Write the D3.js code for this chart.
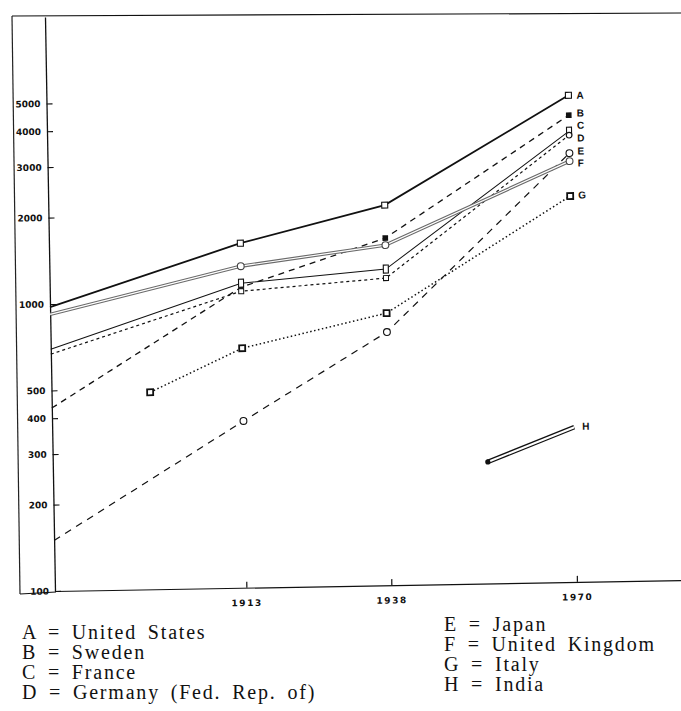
<!DOCTYPE html>
<html><head><meta charset="utf-8">
<script src="https://cdn.jsdelivr.net/npm/d3@7"></script>
<style>body{margin:0;background:#fff}svg{display:block}</style>
</head><body>
<svg id="chart" width="681" height="711"></svg>
<script>
// ---- data ----
const years = [1880, 1913, 1938, 1970];
const unitedStates  = [975, 1586, 2110, 4962];
const sweden        = [434, 1114, 1620, 4231];
const france        = [696, 1151, 1263, 3721];
const germany       = [669, 1079, 1175, 3605];
const japan         = [150, 381, 762, 3120];
const unitedKingdom = [921, 1319, 1531, 2926];
const italyYears = [1897, 1913, 1938, 1970];
const italy      = [486, 683, 887, 2211];
const indiaYears = [1955, 1970];
const india      = [265, 346];
const seriesLetters = ["A", "B", "C", "D", "E", "F", "G", "H"];
const countryNames = ["United States", "Sweden", "France", "Germany (Fed. Rep. of)",
                      "Japan", "United Kingdom", "Italy", "India"];
const yTickValues = [100, 200, 300, 400, 500, 1000, 2000, 3000, 4000, 5000];
const xTickValues = [1913, 1938, 1970];

// ---- styles ----
const styles = {
  A: {w: 1.8, dash: null, marker: "square", mIdx: [1,2,3], labelDy: 0},
  B: {w: 1.3, dash: "6,5", marker: "filled", mIdx: [1,2,3], labelDy: -2},
  C: {w: 1.0, dash: null, marker: "rect", mIdx: [1,2,3], labelDy: -6},
  D: {w: 1.2, dash: "3,3", marker: "small", mIdx: [1,2,3], labelDy: 3},
  E: {w: 1.2, dash: "7,6", marker: "circle", mIdx: [1,2,3], labelDy: -2},
  F: {w: 1.0, dash: null, double: "#6a6a6a", marker: "circle", mIdx: [1,2,3], labelDy: 2},
  G: {w: 1.5, dash: "1.5,2.5", marker: "square", mIdx: [0,1,2,3], labelDy: -1},
  H: {w: 1.0, dash: null, double: "#111", outer: 4.6, inner: 2, marker: "dot", mIdx: [0], labelDy: -1}
};
const seriesData = [
  {k: "A", x: years, v: unitedStates},
  {k: "B", x: years, v: sweden},
  {k: "C", x: years, v: france},
  {k: "D", x: years, v: germany},
  {k: "E", x: years, v: japan},
  {k: "F", x: years, v: unitedKingdom},
  {k: "G", x: italyYears, v: italy},
  {k: "H", x: indiaYears, v: india}
];

const svg = d3.select("#chart");
const x = d3.scaleLinear().domain([1880, 1990]).range([55, 55 + 110 * 5.8]);
const y = d3.scaleLog().domain([100, 10000]).range([591, 17]);

// scan frame lines
svg.append("line").attr("x1", 12).attr("y1", 16).attr("x2", 681).attr("y2", 13)
  .attr("stroke", "#111").attr("stroke-width", 1.2);
svg.append("line").attr("x1", 12).attr("y1", 16).attr("x2", 20).attr("y2", 594)
  .attr("stroke", "#222").attr("stroke-width", 1.2);
svg.append("line").attr("x1", 20).attr("y1", 594).attr("x2", 56).attr("y2", 592)
  .attr("stroke", "#111").attr("stroke-width", 1.2);

const g = svg.append("g").attr("transform", "rotate(-1,55,591)");

// axes
const yAxis = d3.axisLeft(y).tickValues(yTickValues).tickFormat(d3.format("d"))
  .tickSizeInner(-6).tickSizeOuter(0).tickPadding(6);
const ya = g.append("g").attr("transform", "translate(55,0)").call(yAxis);
ya.select(".domain").attr("stroke", "#111").attr("stroke-width", 1.3);
ya.selectAll(".tick line").attr("stroke", "#111").attr("stroke-width", 1.1);
ya.selectAll("text").attr("font-family", "DejaVu Sans").attr("font-weight", "bold")
  .attr("font-size", 9).attr("fill", "#111");

const xAxis = d3.axisBottom(x).tickValues(xTickValues).tickFormat(d3.format("d"))
  .tickSizeInner(-6).tickSizeOuter(0).tickPadding(12);
const xa = g.append("g").attr("transform", "translate(0,591)").call(xAxis);
xa.select(".domain").attr("stroke", "#111").attr("stroke-width", 1.2);
xa.selectAll(".tick line").attr("stroke", "#111").attr("stroke-width", 1.2);
xa.selectAll("text").attr("font-family", "DejaVu Sans").attr("font-weight", "bold")
  .attr("font-size", 9).attr("letter-spacing", 1.6).attr("fill", "#111");

// lines
const line = d3.line().x(d => x(d[0])).y(d => y(d[1]));
seriesData.forEach(s => {
  const st = styles[s.k];
  const pts = s.x.map((yr, i) => [yr, s.v[i]]);
  if (st.double) {
    g.append("path").attr("d", line(pts)).attr("fill", "none")
      .attr("stroke", st.double).attr("stroke-width", st.outer || 3.4);
    g.append("path").attr("d", line(pts)).attr("fill", "none")
      .attr("stroke", "#fff").attr("stroke-width", st.inner || 1.2);
  } else {
    g.append("path").attr("d", line(pts)).attr("fill", "none")
      .attr("stroke", "#111").attr("stroke-width", st.w)
      .attr("stroke-dasharray", st.dash);
  }
});

// markers
seriesData.forEach(s => {
  const st = styles[s.k];
  st.mIdx.forEach(i => {
    const cx = x(s.x[i]), cy = y(s.v[i]);
    const m = st.marker;
    if (m === "square") {
      g.append("rect").attr("x", cx - 3).attr("y", cy - 3).attr("width", 6).attr("height", 6)
        .attr("fill", "#fff").attr("stroke", "#111").attr("stroke-width", s.k === "G" ? 1.8 : 1.1);
    } else if (m === "filled") {
      g.append("rect").attr("x", cx - 2.8).attr("y", cy - 2.8).attr("width", 5.6).attr("height", 5.6)
        .attr("fill", "#111");
    } else if (m === "rect") {
      g.append("rect").attr("x", cx - 2.5).attr("y", cy - 4).attr("width", 5).attr("height", 8)
        .attr("fill", "#fff").attr("stroke", "#111").attr("stroke-width", 1.1);
    } else if (m === "small") {
      if (i === 3) {
        g.append("circle").attr("cx", cx).attr("cy", cy).attr("r", 2.8)
          .attr("fill", "#fff").attr("stroke", "#111").attr("stroke-width", 1.1);
      } else {
        g.append("rect").attr("x", cx - 2.5).attr("y", cy - 2.5).attr("width", 5).attr("height", 5)
          .attr("fill", "#fff").attr("stroke", "#111").attr("stroke-width", 1);
      }
    } else if (m === "circle") {
      g.append("circle").attr("cx", cx).attr("cy", cy).attr("r", 3.4)
        .attr("fill", "#fff").attr("stroke", s.k === "F" ? "#444" : "#111").attr("stroke-width", 1.1);
    } else if (m === "dot") {
      g.append("circle").attr("cx", cx).attr("cy", cy).attr("r", 2.6).attr("fill", "#111");
    }
  });
});

// series letters at right end
seriesData.forEach(s => {
  const st = styles[s.k];
  const last = s.x.length - 1;
  g.append("text").attr("x", x(s.x[last]) + 8).attr("y", y(s.v[last]) + st.labelDy)
    .attr("dy", "0.36em").attr("font-family", "Liberation Sans").attr("font-size", 10)
    .attr("font-weight", "bold").attr("fill", "#111").text(s.k);
});

// legend
const legend = svg.append("g").attr("font-family", "Liberation Serif").attr("font-size", 20)
  .attr("fill", "#111").attr("letter-spacing", 1.8).attr("word-spacing", 4);
seriesLetters.forEach((L, i) => {
  const col = i < 4 ? 0 : 1;
  const row = i % 4;
  legend.append("text")
    .attr("x", col === 0 ? 22 : 444)
    .attr("y", (col === 0 ? 639 : 631) + row * 20)
    .text(L + " = " + countryNames[i]);
});
</script></body></html>
